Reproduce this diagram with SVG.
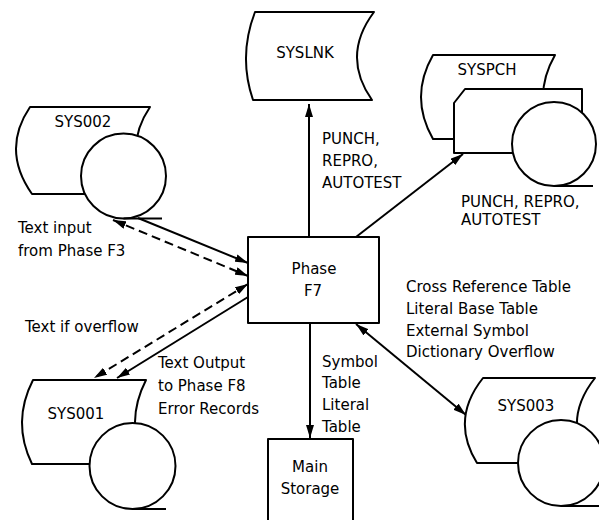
<svg xmlns="http://www.w3.org/2000/svg" width="599" height="520" viewBox="0 0 599 520">
<style>
.s{fill:#fff;stroke:#000;stroke-width:2;stroke-linejoin:round}
.ln{fill:none;stroke:#000;stroke-width:2}
.d{stroke-dasharray:9 5}
.t{font-family:"DejaVu Sans","Noto Sans",sans-serif;font-size:15px;fill:#000}
.c{text-anchor:middle}
</style>
<defs>
<marker id="ah" viewBox="0 0 13 8" refX="13" refY="4" markerWidth="13" markerHeight="8" markerUnits="userSpaceOnUse" orient="auto-start-reverse">
<path d="M0,0 L13,4 L0,8 z" fill="#000"/>
</marker>
</defs>
<rect width="599" height="520" fill="#fff"/>

<g id="connectors">
<path class="ln" d="M309,237 V104" marker-end="url(#ah)"/>
<path class="ln" d="M356,237 L463,154" marker-end="url(#ah)"/>
<path class="ln" d="M310,323 V438" marker-end="url(#ah)"/>
<path class="ln" d="M356,324 L466,415" marker-start="url(#ah)" marker-end="url(#ah)"/>
<path class="ln" d="M138,218 L248,263" marker-end="url(#ah)"/>
<path class="ln d" d="M113,220 L248,276" marker-start="url(#ah)" marker-end="url(#ah)"/>
<path class="ln d" d="M248,284 L94,378" marker-start="url(#ah)" marker-end="url(#ah)"/>
<path class="ln" d="M248,297 L117,378" marker-end="url(#ah)"/>
</g>

<g id="syslnk">
<path class="s" d="M255,12 H374 Q341,56 372,100 H253 Q238,56 255,12 Z"/>
<text class="t c" x="305" y="58">SYSLNK</text>
</g>

<g id="syspch">
<path class="s" d="M433,55 H555 Q531,97 555,139 H433 Q409,97 433,55 Z"/>
<path class="s" d="M465,89 H582 V153 H454 V103 Z"/>
<circle class="s" cx="554" cy="144" r="42"/>
<path class="ln" d="M554,186 H593"/>
<text class="t c" x="487" y="75">SYSPCH</text>
</g>

<g id="sys002">
<path class="s" d="M30,107 H150 Q121,150 152,194 H32 Q1,150 30,107 Z"/>
<circle class="s" cx="123.5" cy="176" r="42.5"/>
<path class="ln" d="M123.5,218.5 H162"/>
<text class="t c" x="83" y="127">SYS002</text>
</g>

<g id="sys001">
<path class="s" d="M33,380 H146 Q124.5,422 145,464 H32 Q11.5,422 33,380 Z"/>
<circle class="s" cx="132.5" cy="466" r="43"/>
<path class="ln" d="M132.5,509 H166"/>
<text class="t c" x="76" y="419">SYS001</text>
</g>

<g id="sys003">
<path class="s" d="M483,378 H595 Q562,419.5 589,463 H477 Q450,419.5 483,378 Z"/>
<circle class="s" cx="561" cy="463" r="43"/>
<path class="ln" d="M561,506 H600"/>
<text class="t c" x="526" y="411">SYS003</text>
</g>

<g id="phase-f7">
<rect class="s" x="248" y="237" width="131" height="86"/>
<text class="t c" x="314" y="274">Phase</text>
<text class="t c" x="313" y="296">F7</text>
</g>

<g id="main-storage">
<rect class="s" x="268" y="439" width="85" height="90"/>
<text class="t c" x="310" y="472">Main</text>
<text class="t c" x="310" y="494">Storage</text>
</g>

<g id="labels">
<text class="t" x="322" y="144">PUNCH,</text>
<text class="t" x="322" y="166">REPRO,</text>
<text class="t" x="322" y="188">AUTOTEST</text>
<text class="t" x="461" y="207">PUNCH, REPRO,</text>
<text class="t" x="461" y="225">AUTOTEST</text>
<text class="t" x="18" y="233">Text input</text>
<text class="t" x="18" y="256">from Phase F3</text>
<text class="t" x="25" y="332">Text if overflow</text>
<text class="t" x="158" y="368">Text Output</text>
<text class="t" x="158" y="391">to Phase F8</text>
<text class="t" x="158" y="414">Error Records</text>
<text class="t" x="322" y="367">Symbol</text>
<text class="t" x="322" y="388">Table</text>
<text class="t" x="322" y="410">Literal</text>
<text class="t" x="322" y="432">Table</text>
<text class="t" x="406" y="292">Cross Reference Table</text>
<text class="t" x="406" y="314">Literal Base Table</text>
<text class="t" x="406" y="336">External Symbol</text>
<text class="t" x="406" y="357">Dictionary Overflow</text>
</g>
</svg>
